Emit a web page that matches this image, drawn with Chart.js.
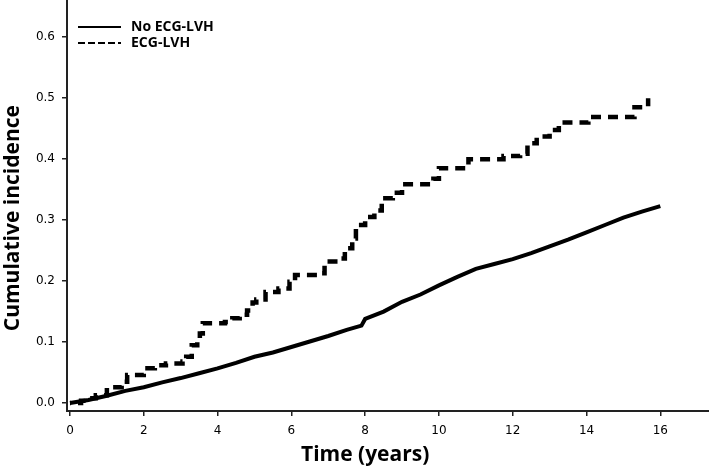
<!DOCTYPE html>
<html lang="en">
<head>
  <meta charset="UTF-8" />
  <title>Cumulative incidence</title>
  <script src="https://cdn.jsdelivr.net/npm/chart.js"></script>
  <style>
    body {
      margin: 0;
      background: white;
    }
    #wrap {
      width: 709px;
      height: 470px;
      position: relative;
    }
  </style>
</head>
<body>

  <div id="wrap"><canvas id="kmChart"></canvas></div>

  <script>
    // ------------------ Data ------------------
    const seriesNames = ['No ECG-LVH', 'ECG-LVH'];

    // No ECG-LVH (solid)
    const noLvhTime = [0, 0.5, 1, 1.5, 2, 2.5, 3, 3.5, 4, 4.5, 5, 5.5, 6, 6.5, 7, 7.5, 7.9, 8.0,
      8.5, 9, 9.5, 10, 10.5, 11, 11.5, 12, 12.5, 13, 13.5, 14, 14.5, 15, 15.5, 16];
    const noLvhInc = [0, 0.005, 0.012, 0.020, 0.026, 0.034, 0.041, 0.049, 0.057, 0.066, 0.076, 0.083,
      0.092, 0.101, 0.110, 0.120, 0.127, 0.138, 0.150, 0.166, 0.178, 0.193, 0.207, 0.220, 0.228,
      0.236, 0.246, 0.257, 0.268, 0.280, 0.292, 0.304, 0.314, 0.323];

    // ECG-LVH (dashed), step points
    const lvhTime = [0, 0.3, 0.5, 0.7, 1.0, 1.4, 1.55, 2.0, 2.3, 2.6, 3.05, 3.15, 3.3, 3.45, 3.52, 3.6,
      4.2, 4.4, 4.6, 4.8, 4.95, 5.05, 5.3, 5.65, 5.95, 6.1, 6.8, 6.9, 7.3, 7.45, 7.65, 7.75, 8.0,
      8.25, 8.45, 8.75, 9.0, 9.85, 10.0, 10.8, 11.75, 12.2, 12.4, 12.65, 13.0, 13.25, 14.05, 15.3, 15.67];
    const lvhInc = [0, 0.004, 0.008, 0.013, 0.026, 0.035, 0.046, 0.057, 0.062, 0.065, 0.068, 0.076,
      0.095, 0.105, 0.114, 0.131, 0.133, 0.139, 0.145, 0.152, 0.165, 0.170, 0.182, 0.188, 0.199,
      0.210, 0.213, 0.232, 0.237, 0.254, 0.270, 0.292, 0.305, 0.316, 0.336, 0.345, 0.359, 0.368,
      0.385, 0.400, 0.405, 0.409, 0.426, 0.437, 0.448, 0.460, 0.469, 0.485, 0.500];

    const xTicks = [0, 2, 4, 6, 8, 10, 12, 14, 16];
    const yTicks = [0.0, 0.1, 0.2, 0.3, 0.4, 0.5, 0.6];
    const xTitle = 'Time (years)';
    const yTitle = 'Cumulative incidence';

    const toPoints = (xs, ys) => xs.map((x, i) => ({ x: x, y: ys[i] }));

    // ------------------ Titles + legend drawn on top ------------------
    const overlay = {
      id: 'overlay',
      afterDraw(chart) {
        const { ctx, chartArea, scales } = chart;
        ctx.save();
        ctx.fillStyle = '#000';
        ctx.font = 'bold 21px "Open Sans"';
        ctx.textAlign = 'center';
        ctx.textBaseline = 'middle';
        ctx.fillText(xTitle, scales.x.getPixelForValue(8), 455);

        ctx.translate(13, scales.y.getPixelForValue(0.3) - 2);
        ctx.rotate(-Math.PI / 2);
        ctx.fillText(yTitle, 0, 0);
        ctx.restore();

        // legend
        ctx.save();
        ctx.strokeStyle = '#000';
        ctx.fillStyle = '#000';
        ctx.lineWidth = 2;
        ctx.font = 'bold 14px "Open Sans"';
        ctx.textBaseline = 'middle';
        chart.data.datasets.forEach((ds, i) => {
          const y = 27 + i * 16;
          const x0 = chartArea.left + 11;
          ctx.setLineDash(i === 0 ? [] : [7, 3]);
          ctx.beginPath();
          ctx.moveTo(x0, y);
          ctx.lineTo(x0 + 43, y);
          ctx.stroke();
          ctx.fillText(ds.label, x0 + 53, y);
        });
        ctx.restore();
      }
    };

    const ctx = document.getElementById('kmChart').getContext('2d');
    new Chart(ctx, {
      type: 'line',
      data: {
        datasets: [
          {
            label: seriesNames[0],
            data: toPoints(noLvhTime, noLvhInc),
            borderColor: '#000',
            borderWidth: 4,
            pointRadius: 0,
            tension: 0
          },
          {
            label: seriesNames[1],
            data: toPoints(lvhTime, lvhInc),
            borderColor: '#000',
            borderWidth: 4.5,
            borderDash: [10, 7],
            borderDashOffset: 9,
            pointRadius: 0,
            stepped: 'before'
          }
        ]
      },
      options: {
        responsive: true,
        maintainAspectRatio: false,
        animation: false,
        layout: { padding: 0 },
        plugins: {
          legend: { display: false },
          tooltip: { enabled: false }
        },
        scales: {
          x: {
            type: 'linear',
            min: -0.081,
            max: 17.32,
            afterBuildTicks: s => { s.ticks = xTicks.map(v => ({ value: v })); },
            afterFit: s => { s.height = 59; s.paddingLeft = 0; s.paddingRight = 0; },
            border: { display: true, color: '#222', width: 2 },
            grid: { display: true, drawOnChartArea: false, drawTicks: true, tickLength: 5, color: '#222', lineWidth: 1.5 },
            ticks: {
              color: '#000',
              font: { family: 'DejaVu Sans', size: 12 },
              padding: 8,
              maxRotation: 0,
              callback: v => String(v)
            }
          },
          y: {
            type: 'linear',
            min: -0.013,
            max: 0.661,
            afterBuildTicks: s => { s.ticks = yTicks.map(v => ({ value: v })); },
            afterFit: s => { s.width = 67; s.paddingTop = 0; s.paddingBottom = 0; },
            border: { display: true, color: '#222', width: 2 },
            grid: { display: true, drawOnChartArea: false, drawTicks: true, tickLength: 5, color: '#222', lineWidth: 1.5 },
            ticks: {
              color: '#000',
              font: { family: 'DejaVu Sans', size: 12 },
              padding: 7,
              callback: v => v.toFixed(1)
            }
          }
        }
      },
      plugins: [overlay]
    });
  </script>

</body>
</html>
